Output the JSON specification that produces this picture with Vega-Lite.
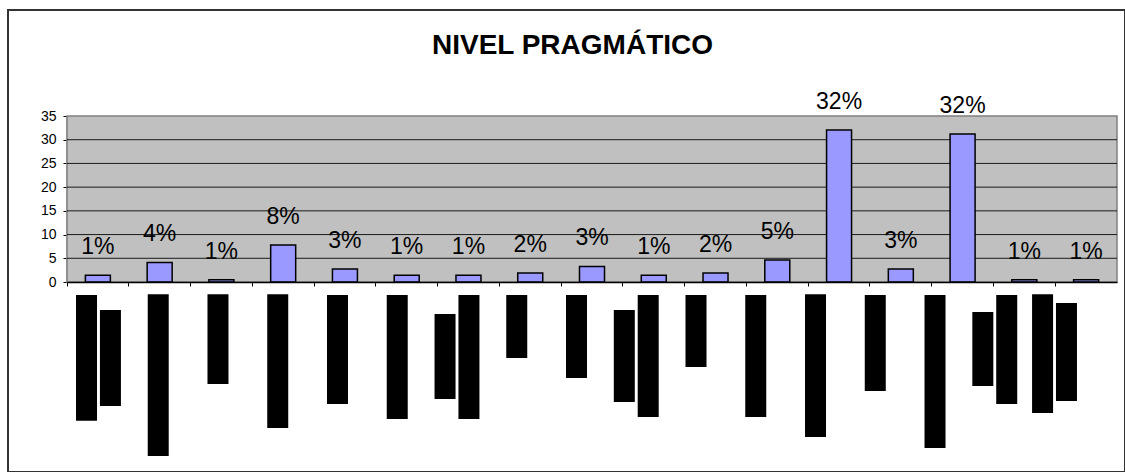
{
  "$schema": "https://vega.github.io/schema/vega-lite/v6.json",
  "width": 1117,
  "height": 462,
  "autosize": "none",
  "padding": {"left": 8, "top": 10, "right": 0, "bottom": 0},
  "background": "white",
  "config": {
    "view": {"stroke": "#333333", "strokeWidth": 2},
    "font": "Liberation Sans"
  },
  "title": {
    "text": "NIVEL PRAGMÁTICO",
    "font": "Liberation Sans",
    "fontSize": 28,
    "fontWeight": "bold",
    "color": "black",
    "anchor": "middle",
    "frame": "group",
    "baseline": "alphabetic",
    "offset": -72,
    "dx": 6
  },
  "datasets": {
    "barras": [
      {"cat": "C1", "valor": 1.43, "etiqueta": "1%"},
      {"cat": "C2", "valor": 4.13, "etiqueta": "4%"},
      {"cat": "C3", "valor": 0.48, "etiqueta": "1%"},
      {"cat": "C4", "valor": 7.8, "etiqueta": "8%"},
      {"cat": "C5", "valor": 2.74, "etiqueta": "3%"},
      {"cat": "C6", "valor": 1.43, "etiqueta": "1%"},
      {"cat": "C7", "valor": 1.43, "etiqueta": "1%"},
      {"cat": "C8", "valor": 1.9, "etiqueta": "2%"},
      {"cat": "C9", "valor": 3.29, "etiqueta": "3%"},
      {"cat": "C10", "valor": 1.43, "etiqueta": "1%"},
      {"cat": "C11", "valor": 1.9, "etiqueta": "2%"},
      {"cat": "C12", "valor": 4.64, "etiqueta": "5%"},
      {"cat": "C13", "valor": 32.05, "etiqueta": "32%"},
      {"cat": "C14", "valor": 2.74, "etiqueta": "3%"},
      {"cat": "C15", "valor": 31.2, "etiqueta": "32%"},
      {"cat": "C16", "valor": 0.48, "etiqueta": "1%"},
      {"cat": "C17", "valor": 0.48, "etiqueta": "1%"}
    ],
    "etiquetas": [
      {"cat": "C1", "linea": "a", "desde": -2.74, "hasta": -29.24},
      {"cat": "C1", "linea": "b", "desde": -5.9, "hasta": -26.14},
      {"cat": "C2", "linea": "m", "desde": -2.59, "hasta": -36.69},
      {"cat": "C3", "linea": "m", "desde": -2.59, "hasta": -21.51},
      {"cat": "C4", "linea": "m", "desde": -2.59, "hasta": -30.78},
      {"cat": "C5", "linea": "m", "desde": -2.74, "hasta": -25.72},
      {"cat": "C6", "linea": "m", "desde": -2.74, "hasta": -28.88},
      {"cat": "C7", "linea": "a", "desde": -6.75, "hasta": -24.67},
      {"cat": "C7", "linea": "b", "desde": -2.74, "hasta": -28.88},
      {"cat": "C8", "linea": "m", "desde": -2.74, "hasta": -16.02},
      {"cat": "C9", "linea": "m", "desde": -2.74, "hasta": -20.24},
      {"cat": "C10", "linea": "a", "desde": -5.9, "hasta": -25.3},
      {"cat": "C10", "linea": "b", "desde": -2.74, "hasta": -28.46},
      {"cat": "C11", "linea": "m", "desde": -2.74, "hasta": -17.92},
      {"cat": "C12", "linea": "m", "desde": -2.74, "hasta": -28.46},
      {"cat": "C13", "linea": "m", "desde": -2.59, "hasta": -32.68},
      {"cat": "C14", "linea": "m", "desde": -2.74, "hasta": -22.98},
      {"cat": "C15", "linea": "m", "desde": -2.74, "hasta": -35.0},
      {"cat": "C16", "linea": "a", "desde": -6.33, "hasta": -21.93},
      {"cat": "C16", "linea": "b", "desde": -2.74, "hasta": -25.72},
      {"cat": "C17", "linea": "a", "desde": -2.59, "hasta": -27.62},
      {"cat": "C17", "linea": "b", "desde": -4.43, "hasta": -25.09}
    ]
  },
  "layer": [
    {
      "data": {"name": "barras"},
      "layer": [
        {
          "data": {"values": [{"fondo": 1}]},
          "mark": {"type": "rect", "fill": "#C0C0C0", "stroke": "#808080", "strokeWidth": 1.5},
          "encoding": {
            "x": {"datum": "C1", "type": "nominal", "bandPosition": 0,
                  "scale": {"domain": ["C1","C2","C3","C4","C5","C6","C7","C8","C9","C10","C11","C12","C13","C14","C15","C16","C17"], "range": [59, 1109], "paddingInner": 0, "paddingOuter": 0},
                  "axis": {"orient": "bottom", "offset": -190, "bandPosition": 0, "labels": false, "title": null, "grid": false,
                           "ticks": true, "tickSize": 4, "tickColor": "black", "domainColor": "black", "domainWidth": 1.5}},
            "x2": {"datum": "C17", "bandPosition": 1},
            "y": {"datum": 0, "type": "quantitative", "scale": {"domain": [0, 35], "range": [272, 106], "nice": false, "zero": false},
                  "axis": {"orient": "left", "offset": -59, "values": [0, 5, 10, 15, 20, 25, 30, 35], "grid": false, "title": null,
                           "tickSize": 4, "tickColor": "black", "domainColor": "black", "domainWidth": 1.5,
                           "labelFontSize": 14, "labelColor": "black", "labelPadding": 7, "labelFont": "Liberation Sans"}},
            "y2": {"datum": 35}
          }
        },
        {
          "data": {"values": [{"g": 5}, {"g": 10}, {"g": 15}, {"g": 20}, {"g": 25}, {"g": 30}]},
          "mark": {"type": "rule", "color": "#1a1a1a", "strokeWidth": 1},
          "encoding": {
            "x": {"datum": "C1", "type": "nominal", "bandPosition": 0},
            "x2": {"datum": "C17", "bandPosition": 1},
            "y": {"field": "g", "type": "quantitative"}
          }
        },
        {
          "mark": {"type": "bar", "width": 25, "fill": "#9999FF", "stroke": "black", "strokeWidth": 1.5},
          "encoding": {
            "x": {"field": "cat", "type": "nominal", "sort": null},
            "y": {"field": "valor", "type": "quantitative"}
          }
        },
        {
          "mark": {"type": "text", "fontSize": 23, "font": "Liberation Sans", "color": "black", "baseline": "alphabetic", "dy": -21},
          "encoding": {
            "x": {"field": "cat", "type": "nominal", "sort": null},
            "y": {"field": "valor", "type": "quantitative"},
            "text": {"field": "etiqueta", "type": "nominal"}
          }
        }
      ]
    },
    {
      "data": {"name": "etiquetas"},
      "mark": {"type": "bar", "width": 21, "color": "black"},
      "encoding": {
        "x": {"field": "cat", "type": "nominal",
              "scale": {"domain": ["C1","C2","C3","C4","C5","C6","C7","C8","C9","C10","C11","C12","C13","C14","C15","C16","C17"], "range": [60.6, 1076.4], "paddingInner": 0, "paddingOuter": 0},
              "axis": null},
        "xOffset": {"field": "linea", "type": "nominal", "scale": {"domain": ["a", "m", "b"], "paddingInner": 0, "paddingOuter": 1.156}},
        "y": {"field": "desde", "type": "quantitative"},
        "y2": {"field": "hasta"}
      }
    }
  ],
  "resolve": {"scale": {"x": "independent"}}
}
